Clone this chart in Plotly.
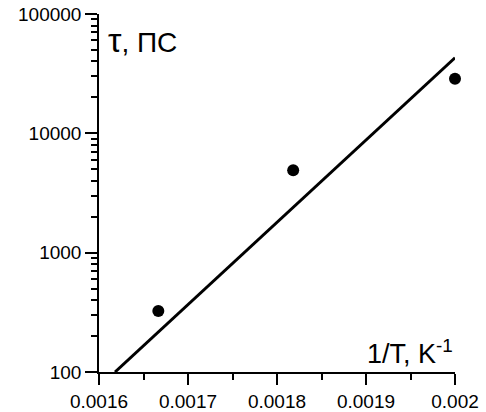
import plotly.graph_objects as go

# Data
inv_T = [1/600, 1/550, 1/500]          # 1/T, K^-1
tau_ps = [325, 4900, 28700]             # tau, ps

fit_x = [0.001618, 0.002]
fit_y = [100, 43000]

x_tickvals = [0.0016, 0.0017, 0.0018, 0.0019, 0.002]
x_ticktext = ["0.0016", "0.0017", "0.0018", "0.0019", "0.002"]
x_minorvals = [0.00165, 0.00175, 0.00185, 0.00195]
y_tickvals = [100, 1000, 10000, 100000]
y_ticktext = ["100", "1000", "10000", "100000"]
y_minorvals = [m * d for d in (100, 1000, 10000) for m in range(2, 10)]

FONT = "Arial, 'Liberation Sans', sans-serif"
XR = [0.0016, 0.002]
YR = [2, 5]

fig = go.Figure()
fig.add_trace(go.Scatter(x=fit_x, y=fit_y, mode="lines",
                         line=dict(color="black", width=3), showlegend=False,
                         cliponaxis=False))
fig.add_trace(go.Scatter(x=inv_T, y=tau_ps, mode="markers",
                         marker=dict(color="black", size=12), showlegend=False,
                         cliponaxis=False))

common = dict(showgrid=False, zeroline=False, automargin=False)

fig.update_layout(
    width=486, height=412,
    margin=dict(l=99, r=31, t=14, b=40, autoexpand=False),
    paper_bgcolor="white", plot_bgcolor="white",
    font=dict(family=FONT, color="black", size=19),
    xaxis=dict(range=XR, tickmode="array", tickvals=x_tickvals, ticktext=x_ticktext,
               ticks="outside", ticklen=11, tickwidth=1.5, tickcolor="black",
               showline=True, linecolor="black", linewidth=1.5,
               tickfont=dict(size=19),
               minor=dict(tickmode="array", tickvals=x_minorvals, ticks="outside",
                          ticklen=6, tickwidth=1.5, tickcolor="black"),
               **common),
    yaxis=dict(type="log", range=YR, tickmode="array", tickvals=y_tickvals,
               ticktext=y_ticktext,
               ticks="outside", ticklen=12, tickwidth=1.5, tickcolor="black",
               showline=True, linecolor="black", linewidth=1.5,
               tickfont=dict(size=19),
               minor=dict(tickmode="array", tickvals=y_minorvals, ticks="outside",
                          ticklen=6, tickwidth=1.5, tickcolor="black"),
               **common),
    annotations=[
        dict(text="<span style='font-size:34px'>τ</span>, ПС", xref="paper", yref="paper",
             x=0.02, y=0.927, xanchor="left", yanchor="middle", showarrow=False,
             font=dict(size=28, family=FONT)),
        dict(text="1/T, K<sup>-1</sup>", xref="paper", yref="paper", x=1.0, y=0.055,
             xanchor="right", yanchor="middle", showarrow=False,
             font=dict(size=27, family=FONT)),
    ],
)

fig.write_html("out.html")
